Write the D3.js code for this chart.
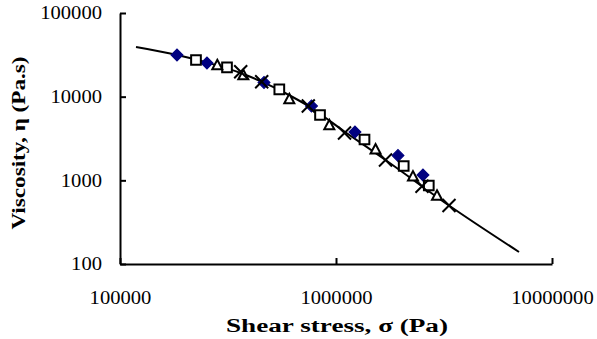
<!DOCTYPE html>
<html><head><meta charset="utf-8">
<script src="https://cdn.jsdelivr.net/npm/d3@7/dist/d3.min.js"></script>
<style>
html,body{margin:0;padding:0;background:#fff;}
svg{display:block;}
</style></head>
<body>
<svg id="chart" width="597" height="339"></svg>
<script>
// ---- data ----
const xTickValues = [100000, 1000000, 10000000];
const yTickValues = [100, 1000, 10000, 100000];
const xTickLabels = ["100000", "1000000", "10000000"];
const yTickLabels = ["100", "1000", "10000", "100000"];

// series 1: filled diamonds
const diamondStress = [183600, 252700, 464200, 770000, 1224000, 1936000, 2527000];
const diamondVisc   = [31480, 25260, 14770, 7735, 3782, 1981, 1158];
// series 2: open squares
const squareStress = [224800, 312900, 546500, 843400, 1355000, 2058000, 2689000];
const squareVisc   = [27440, 22440, 12250, 6038, 3077, 1484, 868];
// series 3: open triangles
const triStress = [282100, 372300, 607900, 931000, 1524000, 2272000, 2935000];
const triVisc   = [23900, 18160, 9380, 4586, 2350, 1117, 659];
// series 4: crosses
const crossStress = [362100, 452900, 744300, 1095000, 1695000, 2501000, 3336000];
const crossVisc   = [19880, 15100, 7735, 3680, 1750, 849, 500];
// model curve
const curveStress = [118600, 179800, 252700, 362100, 452900, 580700, 744300, 1101000, 1695000, 3336000, 7035000];
const curveVisc   = [39230, 31920, 25610, 19180, 15100, 11060, 7735, 3782, 1750, 500, 139.2];

const xTitle = "Shear stress,   σ (Pa)";
const yTitle = "Viscosity,  η (Pa.s)";

// ---- drawing ----
const svg = d3.select("#chart");
const font = "'Liberation Serif','Times New Roman',serif";

const x = d3.scaleLog().domain([1e5, 1e7]).range([120, 552]);
const y = d3.scaleLog().domain([100, 1e5]).range([264, 13]);

const zip = (a, b) => a.map((v, i) => [v, b[i]]);

// curve
const line = d3.line().x(d => x(d[0])).y(d => y(d[1])).curve(d3.curveMonotoneX);
svg.append("path")
  .datum(zip(curveStress, curveVisc))
  .attr("d", line)
  .attr("fill", "none")
  .attr("stroke", "#000")
  .attr("stroke-width", 2);

// markers
const g = svg.append("g");
g.selectAll(".dia").data(zip(diamondStress, diamondVisc)).join("path")
  .attr("class", "dia")
  .attr("d", d3.symbol(d3.symbolSquare, 72)())
  .attr("transform", d => `translate(${x(d[0])},${y(d[1])}) rotate(45)`)
  .attr("fill", "#000080").attr("stroke", "#000080").attr("stroke-width", 1);

g.selectAll(".sq").data(zip(squareStress, squareVisc)).join("path")
  .attr("class", "sq")
  .attr("d", d3.symbol(d3.symbolSquare, 94)())
  .attr("transform", d => `translate(${x(d[0])},${y(d[1])})`)
  .attr("fill", "#fff").attr("stroke", "#000").attr("stroke-width", 2);

const triPath = "M0,-5.2L5,4.2L-5,4.2Z";
g.selectAll(".tri").data(zip(triStress, triVisc)).join("path")
  .attr("class", "tri")
  .attr("d", triPath)
  .attr("transform", d => `translate(${x(d[0])},${y(d[1])})`)
  .attr("fill", "#fff").attr("stroke", "#000").attr("stroke-width", 2).attr("stroke-linejoin", "miter");

const crossPath = "M-6.5,-6.5L6.5,6.5M-6.5,6.5L6.5,-6.5";
g.selectAll(".cr").data(zip(crossStress, crossVisc)).join("path")
  .attr("class", "cr")
  .attr("d", crossPath)
  .attr("transform", d => `translate(${x(d[0])},${y(d[1])})`)
  .attr("fill", "none").attr("stroke", "#000").attr("stroke-width", 2);

// axes
const xAxis = d3.axisBottom(x).tickValues(xTickValues)
  .tickFormat((d, i) => xTickLabels[i]).tickSizeInner(-6).tickSizeOuter(0).tickPadding(27);
const yAxis = d3.axisLeft(y).tickValues(yTickValues)
  .tickFormat((d, i) => yTickLabels[i]).tickSizeInner(-6).tickSizeOuter(0).tickPadding(18);

const gx = svg.append("g").attr("transform", "translate(0,264)").call(xAxis);
const gy = svg.append("g").attr("transform", "translate(120,0)").call(yAxis);
[gx, gy].forEach(a => {
  a.select(".domain").attr("stroke", "#000").attr("stroke-width", 2);
  a.selectAll(".tick line").attr("stroke", "#000").attr("stroke-width", 2);
  a.selectAll(".tick text").attr("fill", "#000")
    .style("font-family", font).style("font-size", "18px")
    .attr("textLength", function () { return this.textContent.length * 10.3; })
    .attr("lengthAdjust", "spacingAndGlyphs");
});

// titles
svg.append("text")
  .attr("x", 337).attr("y", 332)
  .attr("text-anchor", "middle")
  .attr("textLength", 222).attr("lengthAdjust", "spacingAndGlyphs")
  .style("font-family", font).style("font-size", "18px").style("font-weight", "bold")
  .text(xTitle);
svg.append("text")
  .attr("transform", "translate(25,143) rotate(-90)")
  .attr("text-anchor", "middle")
  .attr("textLength", 173).attr("lengthAdjust", "spacingAndGlyphs")
  .style("font-family", font).style("font-size", "19px").style("font-weight", "bold")
  .text(yTitle);
</script>
</body></html>
